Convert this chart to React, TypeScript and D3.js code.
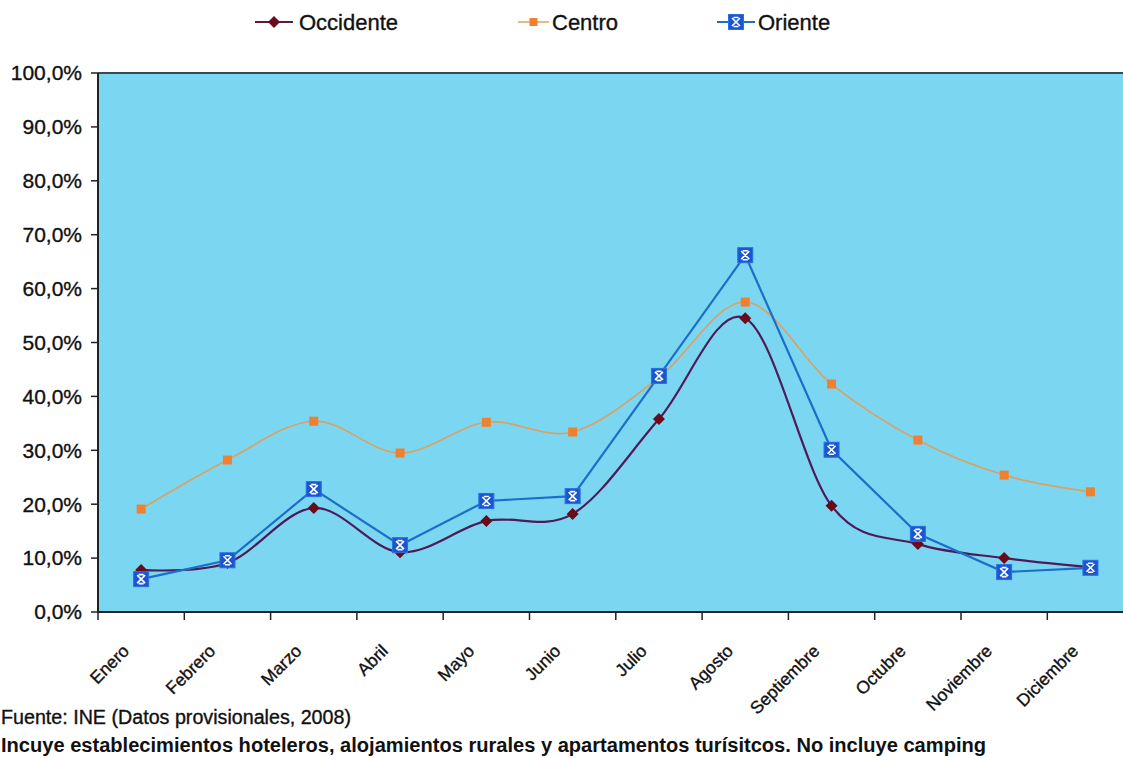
import React, { useEffect } from "react";
import * as d3 from "d3";

// Meses (categorías del eje X)
const months = [
  "Enero", "Febrero", "Marzo", "Abril", "Mayo", "Junio",
  "Julio", "Agosto", "Septiembre", "Octubre", "Noviembre", "Diciembre",
];

// Grado de ocupación por zona (%)
const occidente = [7.8, 9.1, 19.3, 11.1, 16.9, 18.2, 35.8, 54.5, 19.7, 12.6, 10.0, 8.3];
const centro = [19.1, 28.2, 35.4, 29.5, 35.2, 33.4, 43.5, 57.5, 42.3, 31.9, 25.4, 22.3];
const oriente = [6.1, 9.6, 22.8, 12.4, 20.6, 21.5, 43.8, 66.2, 30.1, 14.5, 7.4, 8.2];

const yTicks = [0, 10, 20, 30, 40, 50, 60, 70, 80, 90, 100];

const W = 1123;
const H = 758;
const margin = { top: 73, left: 98, bottom: 146 };
const step = 86.3;
const plotW = step * months.length;
const plotH = H - margin.top - margin.bottom;

const FONT = "'Liberation Sans', Arial, sans-serif";
// trazo fino para imitar el grosor del escaneo
const INK = { fill: "#111", stroke: "#111", strokeWidth: 0.35 };

const fmt = (v: number) => `${v.toFixed(1).replace(".", ",")}%`;

const App: React.FC = () => {
  useEffect(() => {
    document.body.style.margin = "0";
  }, []);

  const x = d3.scaleBand<string>().domain(months).range([0, plotW]);
  const y = d3.scaleLinear().domain([0, 100]).range([plotH, 0]);
  const cx = (i: number) => (x(months[i]) || 0) + x.bandwidth() / 2;

  // líneas suavizadas al estilo Excel
  const smooth = d3
    .line<number>()
    .x((_, i) => cx(i))
    .y((d) => y(d))
    .curve(d3.curveCardinal.tension(0));

  const straight = d3
    .line<number>()
    .x((_, i) => cx(i))
    .y((d) => y(d));

  const orienteMarker = (px: number, py: number, key: string | number) => (
    <g key={key} transform={`translate(${px},${py})`}>
      <rect x={-7.5} y={-7.5} width={15} height={15} fill="#1b55d0" stroke="#2a70e0" strokeWidth={1} />
      <path d="M-4,-4 L4,4 M4,-4 L-4,4 M-2.5,-4.5 L2.5,-4.5 M-2.5,4.5 L2.5,4.5" stroke="#ffffff" strokeWidth={1.6} />
    </g>
  );

  return (
    <svg width={W} height={H} style={{ display: "block", background: "#ffffff" }}>
      {/* leyenda */}
      <g fontFamily={FONT} fontSize={22} {...INK}>
        <line x1={255} x2={293} y1={22} y2={22} stroke="#5a1a50" strokeWidth={2} />
        <path d="M274,16 L280,22 L274,28 L268,22 Z" fill="#6a0a1a" stroke="none" />
        <text x={299} y={30}>Occidente</text>

        <line x1={518} x2={549} y1={22} y2={22} stroke="#e0a060" strokeWidth={1.5} />
        <rect x={529.5} y={18} width={8} height={8} fill="#f08030" stroke="none" />
        <text x={552} y={30}>Centro</text>

        <line x1={717} x2={755} y1={22} y2={22} stroke="#1c6fc8" strokeWidth={2} />
        {orienteMarker(736, 22, "leg")}
        <text x={758} y={30}>Oriente</text>
      </g>

      <g transform={`translate(${margin.left},${margin.top})`}>
        {/* área del gráfico */}
        <rect x={0} y={0} width={plotW} height={plotH} fill="#7bd6f2" />
        <line x1={0} x2={plotW} y1={0} y2={0} stroke="#3a4a55" strokeWidth={2} />

        {/* eje Y */}
        <line x1={0} x2={0} y1={0} y2={plotH} stroke="#222" strokeWidth={2} />
        {yTicks.map((t) => (
          <g key={t} transform={`translate(0,${y(t)})`}>
            <line x1={-7} x2={0} stroke="#222" strokeWidth={1.5} />
            <text
              x={-16}
              dy="0.35em"
              textAnchor="end"
              fontFamily={FONT}
              fontSize={21}
              {...INK}
            >
              {fmt(t)}
            </text>
          </g>
        ))}

        {/* eje X */}
        <line x1={0} x2={plotW} y1={plotH} y2={plotH} stroke="#222" strokeWidth={2} />
        {months.map((m) => (
          <line
            key={m}
            x1={x(m) || 0}
            x2={x(m) || 0}
            y1={plotH}
            y2={plotH + 8}
            stroke="#222"
            strokeWidth={1.5}
          />
        ))}
        {months.map((m, i) => (
          <text
            key={m}
            transform={`translate(${cx(i) - 11},${plotH + 40}) rotate(-45)`}
            textAnchor="end"
            fontFamily={FONT}
            fontSize={17.5}
            {...INK}
          >
            {m}
          </text>
        ))}

        {/* Centro */}
        <path d={smooth(centro) || ""} fill="none" stroke="#dca060" strokeWidth={1.6} />
        {centro.map((v, i) => (
          <rect key={i} x={cx(i) - 4.5} y={y(v) - 4.5} width={9} height={9} fill="#f08030" />
        ))}

        {/* Occidente */}
        <path d={smooth(occidente) || ""} fill="none" stroke="#4e1a58" strokeWidth={2.2} />
        {occidente.map((v, i) => (
          <path
            key={i}
            transform={`translate(${cx(i)},${y(v)})`}
            d="M0,-6 L6,0 L0,6 L-6,0 Z"
            fill="#6a0a1a"
          />
        ))}

        {/* Oriente */}
        <path d={straight(oriente) || ""} fill="none" stroke="#1c6fc8" strokeWidth={2.2} />
        {oriente.map((v, i) => orienteMarker(cx(i), y(v), i))}
      </g>

      {/* notas */}
      <text
        x={1}
        y={724}
        fontFamily={FONT}
        fontSize={19.5}
        textLength={350}
        lengthAdjust="spacingAndGlyphs"
        {...INK}
      >
        Fuente: INE (Datos provisionales, 2008)
      </text>
      <text
        x={1}
        y={752}
        fontFamily={FONT}
        fontSize={20}
        fontWeight="bold"
        textLength={985}
        lengthAdjust="spacingAndGlyphs"
        fill="#111"
      >
        Incuye establecimientos hoteleros, alojamientos rurales y apartamentos turísitcos. No incluye camping
      </text>
    </svg>
  );
};

export default App;
